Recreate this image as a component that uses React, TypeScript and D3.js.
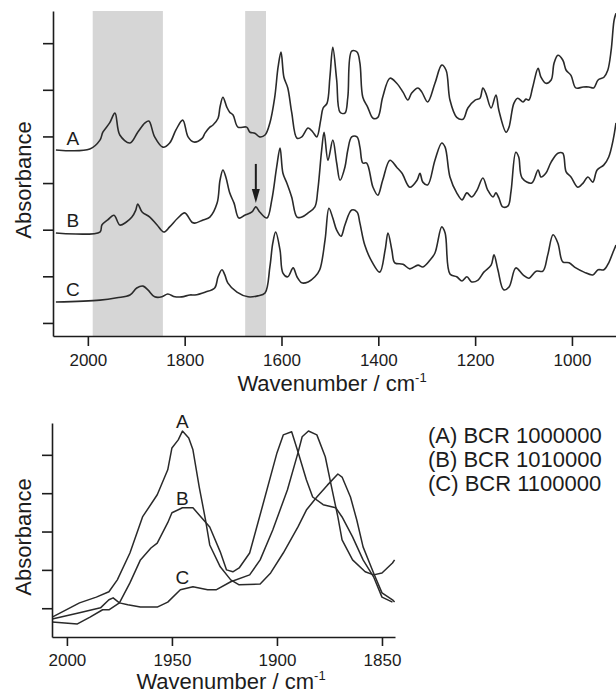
import React, { useRef, useEffect } from 'react';
import * as d3 from 'd3';

// upper panel: full spectra, [wavenumber cm-1, absorbance (arb., offset)]
const spectrumA: [number, number][] = [
  [2066, 3.71], [1996, 3.73], [1975, 3.92], [1969, 4.09], [1955, 4.29], [1944, 4.5], [1934, 4.03], [1913, 3.86],
  [1897, 4.09], [1882, 4.29], [1874, 4.33], [1862, 3.99], [1845, 3.77], [1831, 3.86], [1818, 4.14], [1804, 4.35],
  [1793, 3.99], [1781, 3.88], [1764, 3.96], [1758, 4.07], [1748, 4.2], [1742, 4.24], [1731, 4.39], [1727, 4.63],
  [1721, 4.84], [1713, 4.63], [1707, 4.52], [1700, 4.46], [1690, 4.2], [1672, 4.2], [1665, 4.09], [1655, 4.07],
  [1645, 3.99], [1634, 4.03], [1624, 4.29], [1614, 4.84], [1607, 5.49], [1601, 5.81], [1595, 5.27], [1587, 5.04],
  [1579, 4.52], [1568, 3.96], [1558, 3.99], [1545, 4.18], [1535, 4.09], [1527, 3.99], [1519, 4.35], [1514, 4.61],
  [1506, 4.71], [1500, 5.27], [1494, 5.91], [1486, 5.21], [1479, 4.52], [1469, 4.5], [1463, 4.84], [1455, 5.83],
  [1444, 5.81], [1438, 5.57], [1432, 4.84], [1422, 4.63], [1411, 4.39], [1401, 4.41], [1391, 4.84], [1376, 5.25],
  [1362, 5.14], [1349, 4.95], [1339, 4.78], [1331, 4.93], [1318, 5.04], [1310, 4.95], [1298, 4.74], [1283, 5.14],
  [1269, 5.53], [1260, 5.42], [1252, 4.78], [1238, 4.41], [1225, 4.37], [1215, 4.61], [1200, 4.78], [1190, 4.82],
  [1184, 5.04], [1178, 4.93], [1167, 4.61], [1157, 4.89], [1151, 4.56], [1136, 4.09], [1130, 4.2], [1120, 4.71],
  [1112, 4.82], [1101, 4.74], [1095, 4.8], [1089, 4.78], [1081, 5.06], [1070, 5.46], [1064, 5.27], [1054, 5.14],
  [1043, 5.21], [1037, 5.57], [1029, 5.74], [1019, 5.64], [1012, 5.42], [1002, 5.31], [992, 5.04], [977, 5.06],
  [965, 5.06], [955, 5.04], [946, 5.21], [934, 5.27], [926, 5.42], [919, 5.85], [913, 6.49], [909, 6.64],
];

const spectrumB: [number, number][] = [
  [2066, 1.93], [1975, 1.95], [1971, 2.1], [1959, 2.21], [1946, 2.31], [1934, 2.1], [1921, 2.16], [1909, 2.27],
  [1901, 2.42], [1897, 2.55], [1888, 2.38], [1872, 2.27], [1857, 2.1], [1843, 1.95], [1831, 2.06], [1814, 2.25],
  [1800, 2.36], [1785, 2.16], [1779, 2.14], [1762, 2.21], [1748, 2.27], [1733, 2.57], [1727, 3.06], [1721, 3.28],
  [1715, 3.13], [1707, 2.79], [1698, 2.57], [1688, 2.25], [1676, 2.31], [1661, 2.38], [1653, 2.49], [1645, 2.38],
  [1630, 2.25], [1620, 2.64], [1610, 3.34], [1603, 3.75], [1597, 3.21], [1589, 3.0], [1579, 2.7], [1568, 2.27],
  [1558, 2.27], [1545, 2.36], [1531, 2.49], [1525, 2.85], [1517, 3.71], [1512, 4.09], [1504, 3.49], [1494, 3.92],
  [1486, 3.43], [1479, 3.06], [1469, 3.34], [1463, 3.71], [1455, 3.99], [1444, 3.99], [1438, 3.77], [1432, 3.43],
  [1424, 3.43], [1411, 2.91], [1401, 2.74], [1391, 3.06], [1376, 3.49], [1362, 3.34], [1351, 3.21], [1335, 2.91],
  [1320, 3.06], [1314, 3.21], [1308, 3.02], [1298, 2.96], [1283, 3.49], [1269, 3.86], [1262, 3.77], [1252, 3.13],
  [1238, 2.79], [1227, 2.64], [1217, 2.79], [1207, 2.7], [1196, 2.85], [1184, 3.11], [1174, 2.85], [1163, 2.7],
  [1157, 2.79], [1151, 2.68], [1143, 2.49], [1132, 2.51], [1126, 2.81], [1116, 3.66], [1110, 3.56], [1103, 3.11],
  [1083, 3.0], [1070, 3.28], [1064, 3.13], [1054, 3.21], [1043, 3.45], [1029, 3.64], [1019, 3.64], [1012, 3.24],
  [1002, 3.13], [988, 2.91], [977, 3.0], [967, 3.13], [957, 3.02], [948, 3.28], [934, 3.39], [924, 3.56],
  [915, 3.92], [909, 4.29],
];

const spectrumC: [number, number][] = [
  [2066, 0.45], [1975, 0.49], [1940, 0.54], [1913, 0.6], [1899, 0.75], [1886, 0.79], [1876, 0.71], [1862, 0.56],
  [1847, 0.56], [1835, 0.62], [1820, 0.56], [1806, 0.56], [1789, 0.6], [1779, 0.6], [1758, 0.66], [1738, 0.75],
  [1731, 0.99], [1723, 1.14], [1717, 1.03], [1711, 0.86], [1692, 0.66], [1669, 0.56], [1649, 0.58], [1634, 0.64],
  [1624, 1.2], [1618, 1.71], [1612, 1.95], [1603, 1.56], [1597, 1.07], [1587, 0.99], [1576, 1.18], [1568, 0.99],
  [1558, 0.86], [1545, 0.88], [1531, 0.99], [1521, 1.14], [1510, 1.78], [1502, 2.46], [1494, 2.25], [1486, 1.99],
  [1477, 1.86], [1469, 2.1], [1455, 2.42], [1444, 2.38], [1438, 2.14], [1428, 1.67], [1413, 1.31], [1397, 1.09],
  [1386, 1.56], [1380, 1.93], [1372, 1.56], [1366, 1.29], [1349, 1.26], [1335, 1.16], [1318, 1.24], [1308, 1.2],
  [1293, 1.35], [1283, 1.5], [1269, 2.06], [1262, 1.93], [1252, 1.05], [1238, 0.99], [1227, 0.9], [1217, 0.99],
  [1207, 0.88], [1194, 0.92], [1182, 1.09], [1167, 1.24], [1161, 1.46], [1153, 1.14], [1141, 0.71], [1130, 0.77],
  [1116, 1.18], [1101, 1.03], [1089, 0.96], [1074, 1.11], [1060, 1.11], [1050, 1.46], [1039, 1.89], [1029, 1.71],
  [1019, 1.31], [1006, 1.29], [992, 1.18], [975, 1.09], [957, 1.03], [946, 1.14], [934, 1.14], [924, 1.29],
  [915, 1.52], [909, 1.67],
];

// lower panel: 2000-1845 cm-1 region, normalised
const zoomA: [number, number][] = [
  [2007, -0.23], [1994, 0.14], [1986, 0.29], [1980, 0.43], [1976, 0.74], [1970, 1.44], [1964, 2.38], [1957, 2.96],
  [1952, 3.61], [1950, 4.18], [1947, 4.39], [1945, 4.62], [1942, 4.44], [1940, 4.13], [1937, 3.16], [1934, 2.3],
  [1932, 1.65], [1927, 1.08], [1922, 0.74], [1918, 0.61], [1908, 0.63], [1903, 0.92], [1897, 1.44], [1890, 2.12],
  [1886, 2.56], [1881, 2.9], [1876, 3.21], [1871, 3.5], [1869, 3.42], [1865, 2.9], [1862, 2.3], [1859, 1.6],
  [1854, 0.92], [1850, 0.4], [1845, 0.22], [1844, 0.16],
];

const zoomB: [number, number][] = [
  [2007, -0.36], [1995, -0.41], [1989, -0.23], [1983, -0.04], [1980, -0.04], [1975, 0.14], [1970, 0.66], [1965, 1.26],
  [1960, 1.57], [1957, 1.7], [1952, 2.23], [1950, 2.49], [1945, 2.62], [1940, 2.62], [1937, 2.43], [1932, 2.12],
  [1927, 1.47], [1924, 1.0], [1921, 0.95], [1918, 1.05], [1913, 1.44], [1907, 2.64], [1900, 4.05], [1897, 4.52],
  [1893, 4.6], [1890, 4.08], [1886, 3.35], [1883, 2.9], [1878, 2.7], [1872, 2.62], [1869, 2.38], [1864, 1.86],
  [1859, 1.26], [1854, 0.82], [1850, 0.29], [1845, 0.16],
];

const zoomC: [number, number][] = [
  [2007, -0.28], [1994, -0.12], [1984, 0.01], [1980, 0.22], [1978, 0.27], [1975, 0.14], [1971, 0.09], [1965, 0.03],
  [1957, 0.03], [1952, 0.16], [1946, 0.48], [1940, 0.56], [1933, 0.48], [1929, 0.48], [1922, 0.69], [1913, 0.87],
  [1908, 1.26], [1902, 2.04], [1895, 3.09], [1890, 4.05], [1888, 4.47], [1885, 4.62], [1881, 4.52], [1877, 3.95],
  [1874, 3.16], [1871, 2.38], [1869, 1.78], [1864, 1.26], [1858, 0.95], [1854, 0.87], [1850, 0.92], [1845, 1.18],
  [1844, 1.26],
];

const topTicksX = [2000, 1800, 1600, 1400, 1200, 1000];
const topTicksY = [0, 1, 2, 3, 4, 5, 6];
const bottomTicksX = [2000, 1950, 1900, 1850];
const bottomTicksY = [0, 1, 2, 3, 4];
const shadedBands: [number, number][] = [[1990, 1845], [1675, 1632]];
const arrowMark = { wn: 1653, from: 3.41, to: 2.57 };
const topLabels = [
  { name: 'A', wn: 2031, a: 3.97 },
  { name: 'B', wn: 2031, a: 2.21 },
  { name: 'C', wn: 2031, a: 0.72 },
];
const bottomLabels = [
  { name: 'A', wn: 1945, a: 4.87 },
  { name: 'B', wn: 1945, a: 2.88 },
  { name: 'C', wn: 1945, a: 0.82 },
];
const legendItems = ['(A) BCR 1000000', '(B) BCR 1010000', '(C) BCR 1100000'];

const FONT = '"Liberation Sans", Arial, Helvetica, sans-serif';
const INK = '#1c1c1c';

const App = () => {
  const ref = useRef<SVGSVGElement>(null);

  useEffect(() => {
    const svg = d3.select(ref.current);
    svg.selectAll('*').remove();
    svg.append('rect').attr('width', 616).attr('height', 694).attr('fill', 'white');

    const styleAxis = (g: any, fontSize: number) => {
      g.attr('font-family', FONT).attr('font-size', fontSize);
      g.select('.domain').attr('stroke', INK).attr('stroke-width', 1.6);
      g.selectAll('.tick line').attr('stroke', INK).attr('stroke-width', 1.6);
      g.selectAll('.tick text').attr('fill', INK);
    };

    const xTitle = (g: any, cx: number, baseline: number) => {
      const t = g.append('text')
        .attr('x', cx).attr('y', baseline)
        .attr('text-anchor', 'middle')
        .attr('font-family', FONT).attr('font-size', 22).attr('fill', INK);
      t.append('tspan').text('Wavenumber / cm');
      t.append('tspan').attr('font-size', 13).attr('dy', -9).text('-1');
    };

    const yTitle = (g: any, cx: number, cy: number) => {
      g.append('text')
        .attr('transform', `translate(${cx},${cy}) rotate(-90)`)
        .attr('text-anchor', 'middle')
        .attr('font-family', FONT).attr('font-size', 22).attr('fill', INK)
        .text('Absorbance');
    };

    // ---------- upper panel
    const x1 = d3.scaleLinear().domain([2072, 909]).range([53, 616]);
    const y1 = d3.scaleLinear().domain([-0.28, 6.69]).range([336, 11]);
    const top = svg.append('g');

    top.selectAll('rect.band').data(shadedBands).enter().append('rect')
      .attr('class', 'band')
      .attr('x', d => x1(d[0]))
      .attr('width', d => x1(d[1]) - x1(d[0]))
      .attr('y', y1(6.69))
      .attr('height', y1(-0.28) - y1(6.69))
      .attr('fill', '#d6d6d6');

    const line1 = d3.line<[number, number]>()
      .x(d => x1(d[0]))
      .y(d => y1(d[1]))
      .curve(d3.curveCatmullRom.alpha(0.5));

    top.selectAll('path.spec').data([spectrumA, spectrumB, spectrumC]).enter().append('path')
      .attr('class', 'spec')
      .attr('d', line1)
      .attr('fill', 'none')
      .attr('stroke', '#2a2a2a')
      .attr('stroke-width', 1.6)
      .attr('stroke-linejoin', 'round');

    const topX = top.append('g').attr('transform', `translate(0,${y1(-0.28)})`)
      .call(d3.axisBottom(x1).tickValues(topTicksX).tickSize(10).tickSizeOuter(0).tickPadding(8).tickFormat(d3.format('d')));
    styleAxis(topX, 17);
    const topY = top.append('g').attr('transform', `translate(${x1(2072)},0)`)
      .call(d3.axisLeft(y1).tickValues(topTicksY).tickSize(10).tickSizeOuter(0).tickFormat(() => ''));
    styleAxis(topY, 17);

    xTitle(top, 332, 391);
    yTitle(top, 31, 180);

    top.selectAll('text.lab').data(topLabels).enter().append('text')
      .attr('class', 'lab')
      .attr('x', d => x1(d.wn)).attr('y', d => y1(d.a))
      .attr('dy', '0.36em')
      .attr('text-anchor', 'middle')
      .attr('font-family', FONT).attr('font-size', 19).attr('fill', INK)
      .text(d => d.name);

    // arrow pointing at the B band near 1653
    const axp = x1(arrowMark.wn);
    const tipY = y1(arrowMark.to);
    top.append('line')
      .attr('x1', axp).attr('x2', axp)
      .attr('y1', y1(arrowMark.from)).attr('y2', tipY - 10)
      .attr('stroke', INK).attr('stroke-width', 2);
    top.append('path')
      .attr('d', `M${axp - 4},${tipY - 14}L${axp + 4},${tipY - 14}L${axp},${tipY}Z`)
      .attr('fill', INK);

    // ---------- lower panel
    const x2 = d3.scaleLinear().domain([2007.1, 1843.8]).range([52, 395]);
    const y2 = d3.scaleLinear().domain([-0.75, 4.83]).range([637, 423]);
    const bot = svg.append('g');

    const line2 = d3.line<[number, number]>()
      .x(d => x2(d[0]))
      .y(d => y2(d[1]));

    bot.selectAll('path.zoom').data([zoomA, zoomB, zoomC]).enter().append('path')
      .attr('class', 'zoom')
      .attr('d', line2)
      .attr('fill', 'none')
      .attr('stroke', '#2a2a2a')
      .attr('stroke-width', 1.5)
      .attr('stroke-linejoin', 'round');

    const botX = bot.append('g').attr('transform', `translate(0,${y2(-0.75)})`)
      .call(d3.axisBottom(x2).tickValues(bottomTicksX).tickSize(9).tickSizeOuter(0).tickPadding(8).tickFormat(d3.format('d')));
    styleAxis(botX, 17);
    const botY = bot.append('g').attr('transform', `translate(${x2(2007.1)},0)`)
      .call(d3.axisLeft(y2).tickValues(bottomTicksY).tickSize(10).tickSizeOuter(0).tickFormat(() => ''));
    styleAxis(botY, 17);

    xTitle(bot, 231, 689);
    yTitle(bot, 31, 537);

    bot.selectAll('text.lab').data(bottomLabels).enter().append('text')
      .attr('class', 'lab')
      .attr('x', d => x2(d.wn)).attr('y', d => y2(d.a))
      .attr('dy', '0.36em')
      .attr('text-anchor', 'middle')
      .attr('font-family', FONT).attr('font-size', 19).attr('fill', INK)
      .text(d => d.name);

    svg.append('g').selectAll('text').data(legendItems).enter().append('text')
      .attr('x', 428)
      .attr('y', (d, i) => 443 + i * 24)
      .attr('font-family', FONT).attr('font-size', 22).attr('fill', INK)
      .text(d => d);
  }, []);

  return (
    <svg ref={ref} width={616} height={694} style={{ position: 'absolute', left: 0, top: 0 }} />
  );
};

export default App;
